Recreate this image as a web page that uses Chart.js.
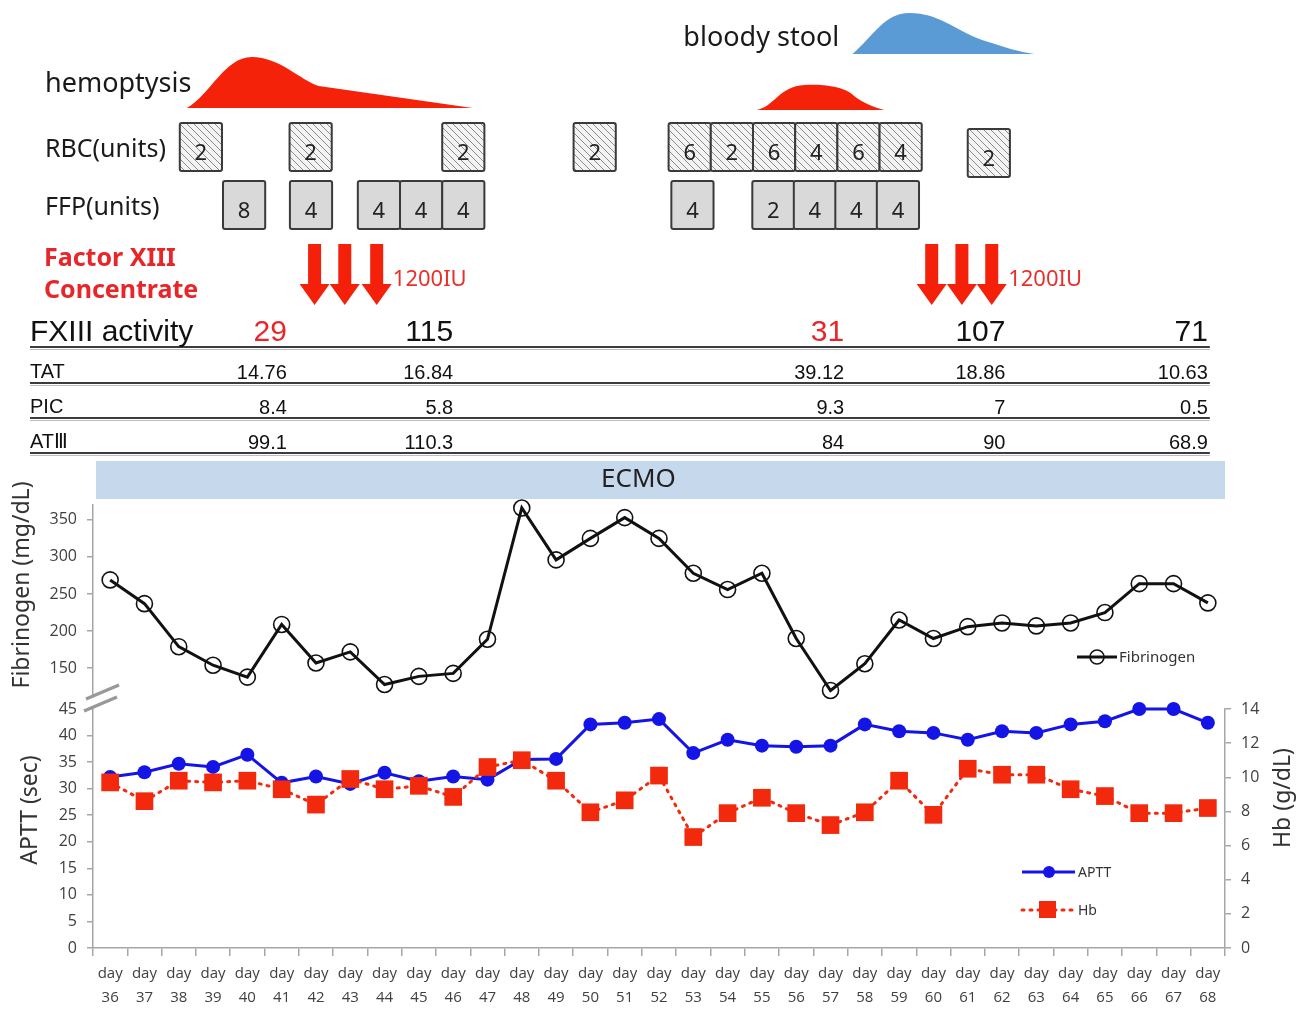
<!DOCTYPE html>
<html>
<head>
<meta charset="utf-8">
<script src="https://cdn.jsdelivr.net/npm/chart.js@4.4.0/dist/chart.umd.min.js"></script>
<style>
html, body { margin: 0; padding: 0; background: #fff; }
</style>
</head>
<body>
<canvas id="chart" width="1309" height="1009"></canvas>
<script>
// data
const days = [36, 37, 38, 39, 40, 41, 42, 43, 44, 45, 46, 47, 48, 49, 50, 51, 52,
              53, 54, 55, 56, 57, 58, 59, 60, 61, 62, 63, 64, 65, 66, 67, 68];
const fibrinogen = [269, 237, 179, 154, 138, 209, 157, 172, 128, 139, 143, 189, 366, 296, 325, 353, 325,
                    278, 256, 278, 190, 120, 156, 215, 190, 206, 211, 207, 211, 225, 264, 264, 238];
const aptt = [32.2, 33.1, 34.7, 34.1, 36.4, 31.1, 32.3, 30.9, 33.0, 31.4, 32.3, 31.7, 35.5, 35.6, 42.1, 42.4, 43.1,
              36.7, 39.2, 38.1, 37.9, 38.1, 42.1, 40.8, 40.5, 39.2, 40.8, 40.5, 42.1, 42.7, 45.0, 45.0, 42.4];
const hb = [9.7, 8.6, 9.8, 9.7, 9.8, 9.3, 8.4, 9.9, 9.3, 9.5, 8.85, 10.6, 11.0, 9.8, 7.95, 8.65, 10.1,
            6.5, 7.9, 8.8, 7.9, 7.2, 7.95, 9.8, 7.8, 10.5, 10.15, 10.15, 9.3, 8.9, 7.9, 7.9, 8.2];

const fibTicks = [150, 200, 250, 300, 350];

// transfusions
const rbcUnits = [2, 2, 2, 2, 6, 2, 6, 4, 6, 4, 2];
const ffpUnits = [8, 4, 4, 4, 4, 4, 2, 4, 4, 4];
const f13Doses = ['1200IU', '1200IU'];

// lab table
const tableRows = ['TAT', 'PIC', 'ATⅢ'];
const fxiii = ['29', '115', '31', '107', '71'];
const tat = ['14.76', '16.84', '39.12', '18.86', '10.63'];
const pic = ['8.4', '5.8', '9.3', '7', '0.5'];
const at3 = ['99.1', '110.3', '84', '90', '68.9'];

// where the annotations sit, in day units along the x axis
const rbcAt = [38.03, 41.23, 45.68, 49.51, 52.28, 53.51, 54.74, 55.97, 57.20, 58.43, 61.0];
const ffpAt = [39.29, 41.24, 43.22, 44.45, 45.68, 52.36, 54.72, 55.93, 57.14, 58.35];
const boxDays = 1.23;
const arrowAt = [[41.96, 42.84, 43.77], [59.95, 60.83, 61.70]];
const doseAt = [44.24, 62.18];
const tableAt = [41.15, 46.0, 57.4, 62.1, 68.0];

const fibColor = '#111111';
const apttColor = '#1414e6';
const hbColor = '#f2290c';
const axisGray = '#a6a6a6';
const tickText = '#404040';
const alertRed = '#e8262a';
const fxiiiColors = [alertRed, '#111', alertRed, '#111', '#111'];

let hatchFill = null;
function hatch(ctx) {
    if (hatchFill) return hatchFill;
    const c = document.createElement('canvas');
    c.width = 7; c.height = 7;
    const g = c.getContext('2d');
    g.fillStyle = '#f3f3f3';
    g.fillRect(0, 0, 7, 7);
    g.strokeStyle = '#8c8c8c';
    g.lineWidth = 1;
    g.beginPath();
    g.moveTo(0, 0); g.lineTo(7, 7);
    g.moveTo(-1, 6); g.lineTo(1, 8);
    g.moveTo(6, -1); g.lineTo(8, 1);
    g.stroke();
    hatchFill = ctx.createPattern(c, 'repeat');
    return hatchFill;
}

function drawBox(ctx, x, y, w, h, fill, label) {
    ctx.save();
    ctx.beginPath();
    ctx.roundRect(x, y, w, h, 2);
    ctx.fillStyle = fill;
    ctx.fill();
    ctx.lineWidth = 2;
    ctx.strokeStyle = '#3a3a3a';
    ctx.stroke();
    ctx.fillStyle = '#222';
    ctx.font = '22px "Noto Sans"';
    ctx.textAlign = 'center';
    ctx.textBaseline = 'middle';
    ctx.fillText(String(label), x + w / 2, y + h / 2 + 7);
    ctx.restore();
}

function drawArrow(ctx, cx) {
    ctx.fillStyle = '#f5200a';
    ctx.fillRect(cx - 6.5, 244, 13, 42);
    ctx.beginPath();
    ctx.moveTo(cx - 15, 284);
    ctx.lineTo(cx + 15, 284);
    ctx.lineTo(cx, 305);
    ctx.closePath();
    ctx.fill();
}

const decor = {
    id: 'decor',
    afterDraw(chart) {
        const ctx = chart.ctx;
        const a = chart.chartArea;
        const xs = chart.scales.x;
        const p0 = xs.getPixelForValue(0);
        const step = xs.getPixelForValue(1) - p0;
        const X = d => p0 + (d - days[0]) * step;

        ctx.save();

        // bleeding episodes
        ctx.fillStyle = '#f5220a';
        ctx.beginPath();
        ctx.moveTo(X(38.24), 108);
        ctx.bezierCurveTo(X(38.91), 95, X(39.34), 57, X(40.13), 57);
        ctx.bezierCurveTo(X(40.94), 57, X(41.53), 80, X(42.08), 86);
        ctx.lineTo(X(46.57), 108);
        ctx.closePath();
        ctx.fill();

        ctx.beginPath();
        ctx.moveTo(X(54.84), 110);
        ctx.bezierCurveTo(X(55.36), 107, X(55.51), 86, X(56.24), 85);
        ctx.bezierCurveTo(X(56.59), 84, X(57.40), 85, X(57.69), 96);
        ctx.bezierCurveTo(X(57.9), 102, X(58.3), 108, X(58.57), 110);
        ctx.closePath();
        ctx.fill();

        ctx.fillStyle = '#5b9bd5';
        ctx.beginPath();
        ctx.moveTo(X(57.64), 54);
        ctx.bezierCurveTo(X(58.28), 35, X(58.57), 13, X(59.30), 13);
        ctx.bezierCurveTo(X(60.17), 13, X(60.61), 30, X(61.42), 40);
        ctx.bezierCurveTo(X(62.06), 47, X(62.50), 52, X(62.94), 54);
        ctx.closePath();
        ctx.fill();

        // left column labels
        ctx.fillStyle = '#1a1a1a';
        ctx.textBaseline = 'alphabetic';
        ctx.textAlign = 'left';
        ctx.font = '27px "Noto Sans"';
        ctx.fillText('hemoptysis', 45, 92);
        ctx.fillText('bloody stool', X(52.71), 46);
        ctx.font = '25px "Noto Sans"';
        ctx.fillText('RBC(units)', 45, 157);
        ctx.fillText('FFP(units)', 45, 215);
        ctx.fillStyle = alertRed;
        ctx.font = 'bold 25px "Noto Sans"';
        ctx.fillText('Factor XIII', 44, 266);
        ctx.fillText('Concentrate', 44, 298);

        // transfusion boxes
        const bw = boxDays * step;
        rbcUnits.forEach((u, i) => {
            const dy = i === rbcUnits.length - 1 ? 6 : 0;
            drawBox(ctx, X(rbcAt[i]), 123 + dy, bw, 48, hatch(ctx), u);
        });
        ffpUnits.forEach((u, i) => {
            drawBox(ctx, X(ffpAt[i]), 181, bw, 48, '#d9d9d9', u);
        });

        // factor XIII doses
        arrowAt.forEach((grp, g) => {
            grp.forEach(d => drawArrow(ctx, X(d)));
            ctx.fillStyle = '#e8302a';
            ctx.font = '22px "Noto Sans"';
            ctx.textAlign = 'left';
            ctx.textBaseline = 'middle';
            ctx.fillText(f13Doses[g], X(doseAt[g]), 280);
        });

        // lab table
        const right = X(tableAt[4]) + 2;
        [347, 383, 418, 453].forEach(y => {
            ctx.strokeStyle = '#3c3c3c';
            ctx.lineWidth = 2;
            ctx.beginPath(); ctx.moveTo(30, y); ctx.lineTo(right, y); ctx.stroke();
            ctx.strokeStyle = '#bdbdbd';
            ctx.lineWidth = 1;
            ctx.beginPath(); ctx.moveTo(30, y + 2.5); ctx.lineTo(right, y + 2.5); ctx.stroke();
        });
        ctx.textBaseline = 'alphabetic';
        ctx.textAlign = 'left';
        ctx.fillStyle = '#111';
        ctx.font = '30px "Liberation Sans"';
        ctx.fillText('FXIII activity', 30, 341);
        ctx.textAlign = 'right';
        fxiii.forEach((v, i) => {
            ctx.fillStyle = fxiiiColors[i];
            ctx.fillText(v, X(tableAt[i]), 341);
        });
        const rowBase = [378, 413, 448];
        [tat, pic, at3].forEach((row, r) => {
            ctx.fillStyle = '#111';
            ctx.font = '20px "Liberation Sans"';
            ctx.textAlign = 'left';
            ctx.fillText(tableRows[r], 30, rowBase[r]);
            ctx.textAlign = 'right';
            row.forEach((v, i) => ctx.fillText(v, X(tableAt[i]), rowBase[r] + 1));
        });

        // ECMO period
        ctx.fillStyle = '#c6d9ec';
        ctx.fillRect(a.left + 3, 461, a.right - a.left - 3, 38);
        ctx.fillStyle = '#222';
        ctx.font = '26px "Noto Sans"';
        ctx.textAlign = 'center';
        ctx.textBaseline = 'middle';
        ctx.fillText('ECMO', X(51.4), 480);

        // axis titles
        ctx.fillStyle = '#333';
        ctx.font = '23px "Noto Sans"';
        [['Fibrinogen (mg/dL)', 22, 585], ['APTT (sec)', 30, 810], ['Hb (g/dL)', 1283, 798]].forEach(([t, x, y]) => {
            ctx.save();
            ctx.translate(x, y);
            ctx.rotate(-Math.PI / 2);
            ctx.fillText(t, 0, 0);
            ctx.restore();
        });

        // axis break
        const L = a.left;
        ctx.fillStyle = '#fff';
        ctx.beginPath();
        ctx.moveTo(L - 7, 699); ctx.lineTo(L + 26, 685); ctx.lineTo(L + 24, 697); ctx.lineTo(L - 9, 711);
        ctx.closePath();
        ctx.fill();
        ctx.strokeStyle = '#999';
        ctx.lineWidth = 3.5;
        ctx.beginPath();
        ctx.moveTo(L - 7, 699); ctx.lineTo(L + 26, 685);
        ctx.moveTo(L - 9, 711); ctx.lineTo(L + 24, 697);
        ctx.stroke();

        // legends
        ctx.lineWidth = 3;
        ctx.strokeStyle = fibColor;
        ctx.beginPath(); ctx.moveTo(a.right - 148, 657); ctx.lineTo(a.right - 108, 657); ctx.stroke();
        ctx.lineWidth = 1.6;
        ctx.beginPath(); ctx.arc(a.right - 128, 657, 7, 0, Math.PI * 2); ctx.stroke();
        ctx.fillStyle = '#333';
        ctx.font = '15px "Noto Sans"';
        ctx.textAlign = 'left';
        ctx.fillText('Fibrinogen', a.right - 106, 658);

        ctx.lineWidth = 3;
        ctx.strokeStyle = apttColor;
        ctx.beginPath(); ctx.moveTo(a.right - 203, 872); ctx.lineTo(a.right - 150, 872); ctx.stroke();
        ctx.fillStyle = apttColor;
        ctx.beginPath(); ctx.arc(a.right - 176, 872, 6, 0, Math.PI * 2); ctx.fill();
        ctx.strokeStyle = hbColor;
        ctx.setLineDash([2, 6]);
        ctx.lineCap = 'round';
        ctx.beginPath(); ctx.moveTo(a.right - 203, 910); ctx.lineTo(a.right - 150, 910); ctx.stroke();
        ctx.setLineDash([]);
        ctx.fillStyle = hbColor;
        ctx.fillRect(a.right - 186, 901, 17, 17);
        ctx.fillStyle = '#333';
        ctx.font = '14px "Noto Sans"';
        ctx.fillText('APTT', a.right - 147, 873);
        ctx.fillText('Hb', a.right - 147, 911);

        ctx.restore();
    }
};

const tickFont = { family: 'Open Sans', size: 16 };

new Chart(document.getElementById('chart').getContext('2d'), {
    type: 'line',
    data: {
        labels: days.map(d => ['day', String(d)]),
        datasets: [
            {
                label: 'Fibrinogen',
                data: fibrinogen,
                yAxisID: 'yF',
                order: 2,
                borderColor: fibColor,
                borderWidth: 3,
                pointRadius: 8,
                pointBorderWidth: 1.6,
                pointBorderColor: fibColor,
                pointBackgroundColor: 'rgba(0,0,0,0)',
                clip: false
            },
            {
                label: 'APTT',
                data: aptt,
                yAxisID: 'yA',
                order: 1,
                borderColor: apttColor,
                backgroundColor: apttColor,
                borderWidth: 3,
                pointRadius: 7,
                pointBorderWidth: 0,
                pointBackgroundColor: apttColor,
                clip: false
            },
            {
                label: 'Hb',
                data: hb,
                yAxisID: 'yH',
                order: 0,
                borderColor: hbColor,
                backgroundColor: hbColor,
                borderWidth: 3,
                borderDash: [2, 6],
                borderCapStyle: 'round',
                pointStyle: 'rect',
                pointRadius: 12.5,
                pointBorderWidth: 0,
                pointBackgroundColor: hbColor,
                clip: false
            }
        ]
    },
    options: {
        responsive: false,
        animation: false,
        events: [],
        layout: { padding: { top: 505, left: 0, right: 0, bottom: 3 } },
        plugins: { legend: { display: false }, tooltip: { enabled: false } },
        scales: {
            x: {
                type: 'category',
                offset: true,
                grid: { offset: true, drawOnChartArea: false, tickLength: 8, color: axisGray, lineWidth: 1.5 },
                border: { color: axisGray, width: 1.5 },
                ticks: {
                    color: tickText,
                    font: { family: 'Open Sans', size: 15, lineHeight: 1.6 },
                    maxRotation: 0,
                    autoSkip: false,
                    padding: 6
                },
                afterFit: s => { s.height = 58; }
            },
            yF: {
                type: 'linear',
                position: 'left',
                stack: 'L',
                stackWeight: 204,
                weight: 1,
                min: 95,
                max: 370,
                afterBuildTicks: s => { s.ticks = fibTicks.map(v => ({ value: v })); },
                ticks: { color: tickText, font: tickFont, padding: 10, autoSkip: false },
                grid: { drawOnChartArea: false, tickLength: 6, color: axisGray, lineWidth: 1.5 },
                border: { color: axisGray, width: 1.5 },
                afterFit: s => { s.width = 93; }
            },
            yA: {
                type: 'linear',
                position: 'left',
                stack: 'L',
                stackWeight: 239,
                weight: 0,
                min: 0,
                max: 45,
                ticks: { stepSize: 5, color: tickText, font: tickFont, padding: 10, autoSkip: false },
                grid: { drawOnChartArea: false, tickLength: 6, color: axisGray, lineWidth: 1.5 },
                border: { color: axisGray, width: 1.5 },
                afterFit: s => { s.width = 93; }
            },
            yD: {
                type: 'linear',
                position: 'right',
                stack: 'R',
                stackWeight: 204,
                weight: 0,
                ticks: { display: false },
                grid: { display: false },
                border: { display: false },
                afterFit: s => { s.width = 84; }
            },
            yH: {
                type: 'linear',
                position: 'right',
                stack: 'R',
                stackWeight: 239,
                weight: 1,
                min: 0,
                max: 14,
                ticks: { stepSize: 2, color: tickText, font: tickFont, padding: 10, autoSkip: false },
                grid: { drawOnChartArea: false, tickLength: 6, color: axisGray, lineWidth: 1.5 },
                border: { color: axisGray, width: 1.5 },
                afterFit: s => { s.width = 84; }
            }
        }
    },
    plugins: [decor]
});
</script>
</body>
</html>
